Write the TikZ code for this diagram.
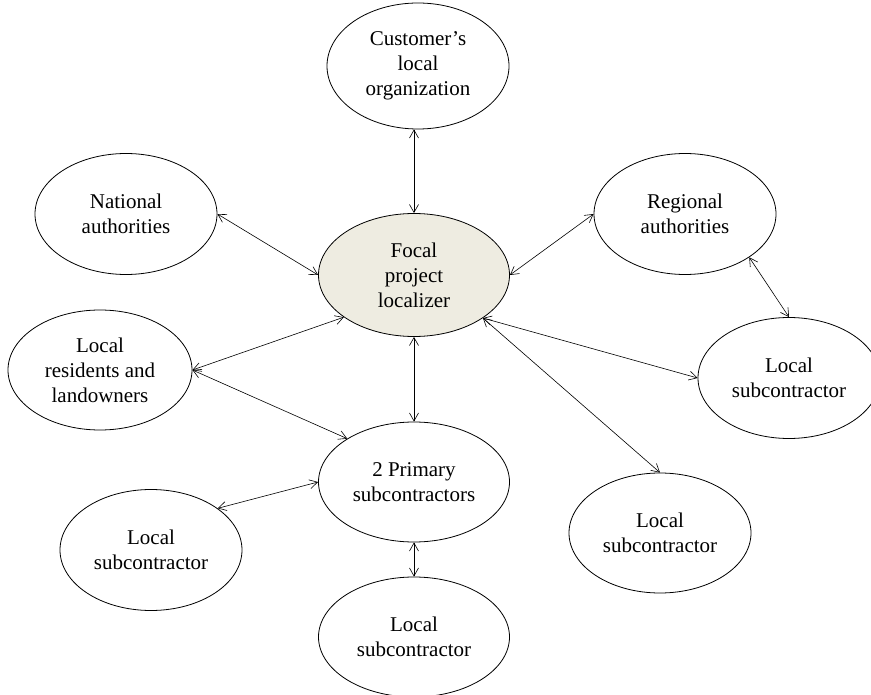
\documentclass[tikz,border=0pt]{standalone}
\usepackage{fontspec}
\setmainfont{Liberation Serif}
\usetikzlibrary{arrows.meta}
\usetikzlibrary{shapes.geometric}

\definecolor{tanbg}{HTML}{EEECE1}

\begin{document}
\begin{tikzpicture}[x=1pt,y=-1pt,
  bubble/.style={draw, ellipse, line width=0.8pt, inner sep=0pt, align=center,
    minimum width=182pt, minimum height=121pt, font=\fontsize{21}{25}\selectfont},
  link/.style={<->, line width=0.6pt},
  >={Straight Barb[length=8pt,width=9pt]}]
\useasboundingbox (0,0) rectangle (871,695);

% centre
\node[bubble, fill=tanbg, minimum width=191pt, minimum height=123pt] (focal) at (414,275) {Focal\\project\\localizer};

% upper row
\node[bubble, minimum height=126pt] (cust) at (418,66) {Customer's\\local\\organization};
\node[bubble] (natl) at (126,214) {National\\authorities};
\node[bubble] (regl) at (685,214) {Regional\\authorities};

% middle row
\node[bubble, minimum width=184pt, minimum height=120pt] (resid) at (100,370) {Local\\residents and\\landowners};
\node[bubble] (locR) at (789,378) {Local\\subcontractor};
\node[bubble, minimum width=191pt, minimum height=120pt] (prim) at (414,482) {2 Primary\\subcontractors};

% lower row
\node[bubble] (locL) at (151,550) {Local\\subcontractor};
\node[bubble, minimum height=120pt] (locM) at (660,533) {Local\\subcontractor};
\node[bubble, minimum width=191pt, minimum height=120pt] (locB) at (414,637) {Local\\subcontractor};

\draw[link] (cust.south -| focal.north) -- (focal.north);
\draw[link] (natl.east) -- (focal.west);
\draw[link] (regl.west) -- (focal.east);
\draw[link] (focal.south) -- (prim.north);
\draw[link] (prim.south) -- (locB.north);
\draw[link] (resid.east) -- (focal.211);
\draw[link] (resid.east) -- (prim.147);
\draw[link] (locL.32) -- (prim.west);
\draw[link] (focal.-32) -- (locR.west);
\draw[link] (focal.-32) -- (locM.north);
\draw[link] (regl.-34) -- (locR.north); % regional to local
\end{tikzpicture}
\end{document}
